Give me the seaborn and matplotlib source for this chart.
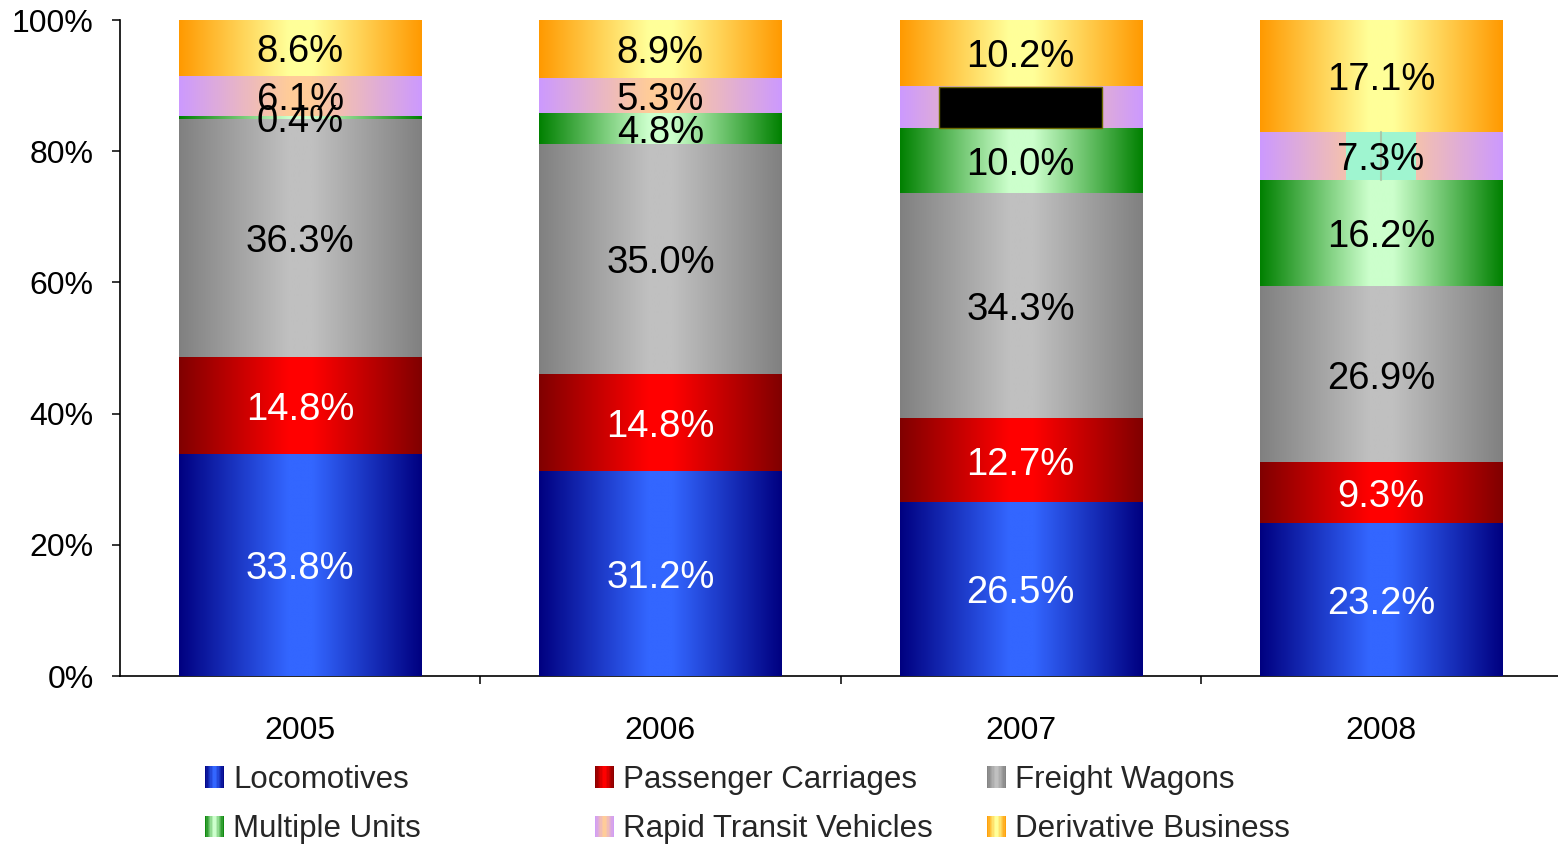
import numpy as np
import pandas as pd
import matplotlib
matplotlib.use("Agg")
import matplotlib.pyplot as plt
import matplotlib.transforms as mtransforms
import seaborn as sns
from matplotlib.colors import to_rgb
from matplotlib.patches import Rectangle, Patch
from matplotlib.legend_handler import HandlerBase
from matplotlib.ticker import FuncFormatter

# ---------------- data ----------------
years = ["2005", "2006", "2007", "2008"]
locomotives = [33.8, 31.2, 26.5, 23.2]
passenger_carriages = [14.8, 14.8, 12.7, 9.3]
freight_wagons = [36.3, 35.0, 34.3, 26.9]
multiple_units = [0.4, 4.8, 10.0, 16.2]
rapid_transit = [6.1, 5.3, 6.3, 7.3]
derivative_business = [8.6, 8.9, 10.2, 17.1]

series_names = ["Locomotives", "Passenger Carriages", "Freight Wagons",
                "Multiple Units", "Rapid Transit Vehicles", "Derivative Business"]
series_values = [locomotives, passenger_carriages, freight_wagons,
                 multiple_units, rapid_transit, derivative_business]
edge_colors = ["#000080", "#800000", "#808080", "#008000", "#CC99FF", "#FF9900"]
center_colors = ["#3366FF", "#FF0000", "#C0C0C0", "#CCFFCC", "#FFCC99", "#FFFF99"]
label_colors = ["white", "white", "black", "black", "black", "black"]

# ---------------- style ----------------
sns.set_theme(style="white")
plt.rcParams["font.family"] = ["Liberation Sans", "DejaVu Sans"]

W, H = 1558, 846
fig = plt.figure(figsize=(W / 100, H / 100), dpi=100)
ax = fig.add_axes([120 / W, 170 / H, 1441 / W, 656 / H])

BAR_W = 0.672


def profile(t):
    # 0 at edges -> 1 at centre
    return np.clip((1 - np.abs(2 * t - 1)) / 0.9, 0, 1)


def gradient_row(edge, center, n=256):
    e = np.array(to_rgb(edge))
    c = np.array(to_rgb(center))
    t = profile((np.arange(n) + 0.5) / n)[:, None]
    return (e * (1 - t) + c * t)[None, :, :]


df = pd.DataFrame({"year": years})
cum = np.zeros(len(years))
cums = []
for vals in series_values:
    cum = cum + np.array(vals)
    cums.append(cum.copy())

# draw cumulative bars from the top layer down so lower layers sit on top
for i in reversed(range(len(series_names))):
    df["cum"] = cums[i]
    n_before = len(ax.patches)
    sns.barplot(data=df, x="year", y="cum", order=years, color=center_colors[i],
                width=BAR_W, ax=ax, zorder=2 + i * 0.01, saturation=1)
    img = gradient_row(edge_colors[i], center_colors[i])
    for p in ax.patches[n_before:]:
        x0, w, h = p.get_x(), p.get_width(), p.get_height()
        p.set_facecolor("none")
        p.set_edgecolor("none")
        ax.imshow(img, extent=(x0, x0 + w, 0, h), aspect="auto",
                  zorder=3 + (len(series_names) - i) * 0.01, interpolation="bilinear")

# artefacts present in the reference
# 2008 rapid transit label sits on a mint patch
j = years.index("2008")
b = cums[3][j]
ax.add_patch(Rectangle((j - 0.097, b), 0.194, rapid_transit[j], facecolor="#9ff5d0",
                       edgecolor="none", zorder=4))
ax.plot([j, j], [b, b + rapid_transit[j]], color="#a9c9a9", lw=1.5, zorder=4.01)

# data labels (shifted slightly down, as in the reference)
label_trans = ax.transData + mtransforms.ScaledTranslation(0, -4 / 100, fig.dpi_scale_trans)
for i, vals in enumerate(series_values):
    for j, v in enumerate(vals):
        bottom = cums[i][j] - v
        ax.text(j, bottom + v / 2, f"{v:.1f}%", ha="center", va="center",
                fontsize=27.5, color=label_colors[i], zorder=5, transform=label_trans)

# 2007 rapid transit label covered by a black box
j = years.index("2007")
b = cums[3][j]
ax.add_patch(Rectangle((j - 0.2265, b), 0.453, rapid_transit[j], facecolor="black",
                       edgecolor="#6b6b00", lw=1, zorder=6))

# ---------------- axes ----------------
ax.set_xlim(-0.5, 3.5)
ax.set_ylim(0, 100)
ax.set_yticks(np.arange(0, 101, 20))
ax.yaxis.set_major_formatter(FuncFormatter(lambda v, _: f"{v:.0f}%"))
ax.set_xticks(range(len(years)))
ax.set_xticklabels(years)
ax.set_xticks([0.5, 1.5, 2.5], minor=True)
ax.set_xlabel("")
ax.set_ylabel("")
ax.tick_params(axis="x", which="major", length=0, pad=29, labelsize=23, colors="black")
ax.tick_params(axis="x", which="minor", length=6, width=1.1, direction="out",
               bottom=True, color="black")
ax.tick_params(axis="y", which="major", length=6, width=1.1, direction="out",
               left=True, pad=13, labelsize=23, colors="black")
for s in ["top", "right"]:
    ax.spines[s].set_visible(False)
for s in ["left", "bottom"]:
    ax.spines[s].set_color("black")
    ax.spines[s].set_linewidth(1.2)
ax.set_facecolor("white")
ax.grid(False)


# ---------------- legend ----------------
class GradientHandler(HandlerBase):
    def create_artists(self, legend, orig_handle, xdescent, ydescent, width,
                       height, fontsize, trans):
        edge, center = orig_handle.grad_colors
        n = 14
        arts = []
        for k in range(n):
            t = profile((k + 0.5) / n)
            c = np.array(to_rgb(edge)) * (1 - t) + np.array(to_rgb(center)) * t
            arts.append(Rectangle((-xdescent + k * width / n, -ydescent),
                                  width / n * 1.08, height, facecolor=c,
                                  edgecolor="none", transform=trans))
        return arts


handles = []
for i, name in enumerate(series_names):
    h = Patch(label=name)
    h.grad_colors = (edge_colors[i], center_colors[i])
    handles.append(h)

columns = [(0, 3), (1, 4), (2, 5)]
col_x = [205, 595, 987]
for (a, bidx), x in zip(columns, col_x):
    hs = [handles[a], handles[bidx]]
    leg = fig.legend(handles=hs, labels=[h.get_label() for h in hs],
                     loc="upper left", bbox_to_anchor=(x / W, 1 - 765 / H),
                     frameon=False, fontsize=22.5, borderpad=0, borderaxespad=0,
                     handlelength=0.61, handleheight=0.67, handletextpad=0.3,
                     labelspacing=0.62,
                     handler_map={h: GradientHandler() for h in hs})

fig.savefig("out.png", dpi=100, facecolor="white")
